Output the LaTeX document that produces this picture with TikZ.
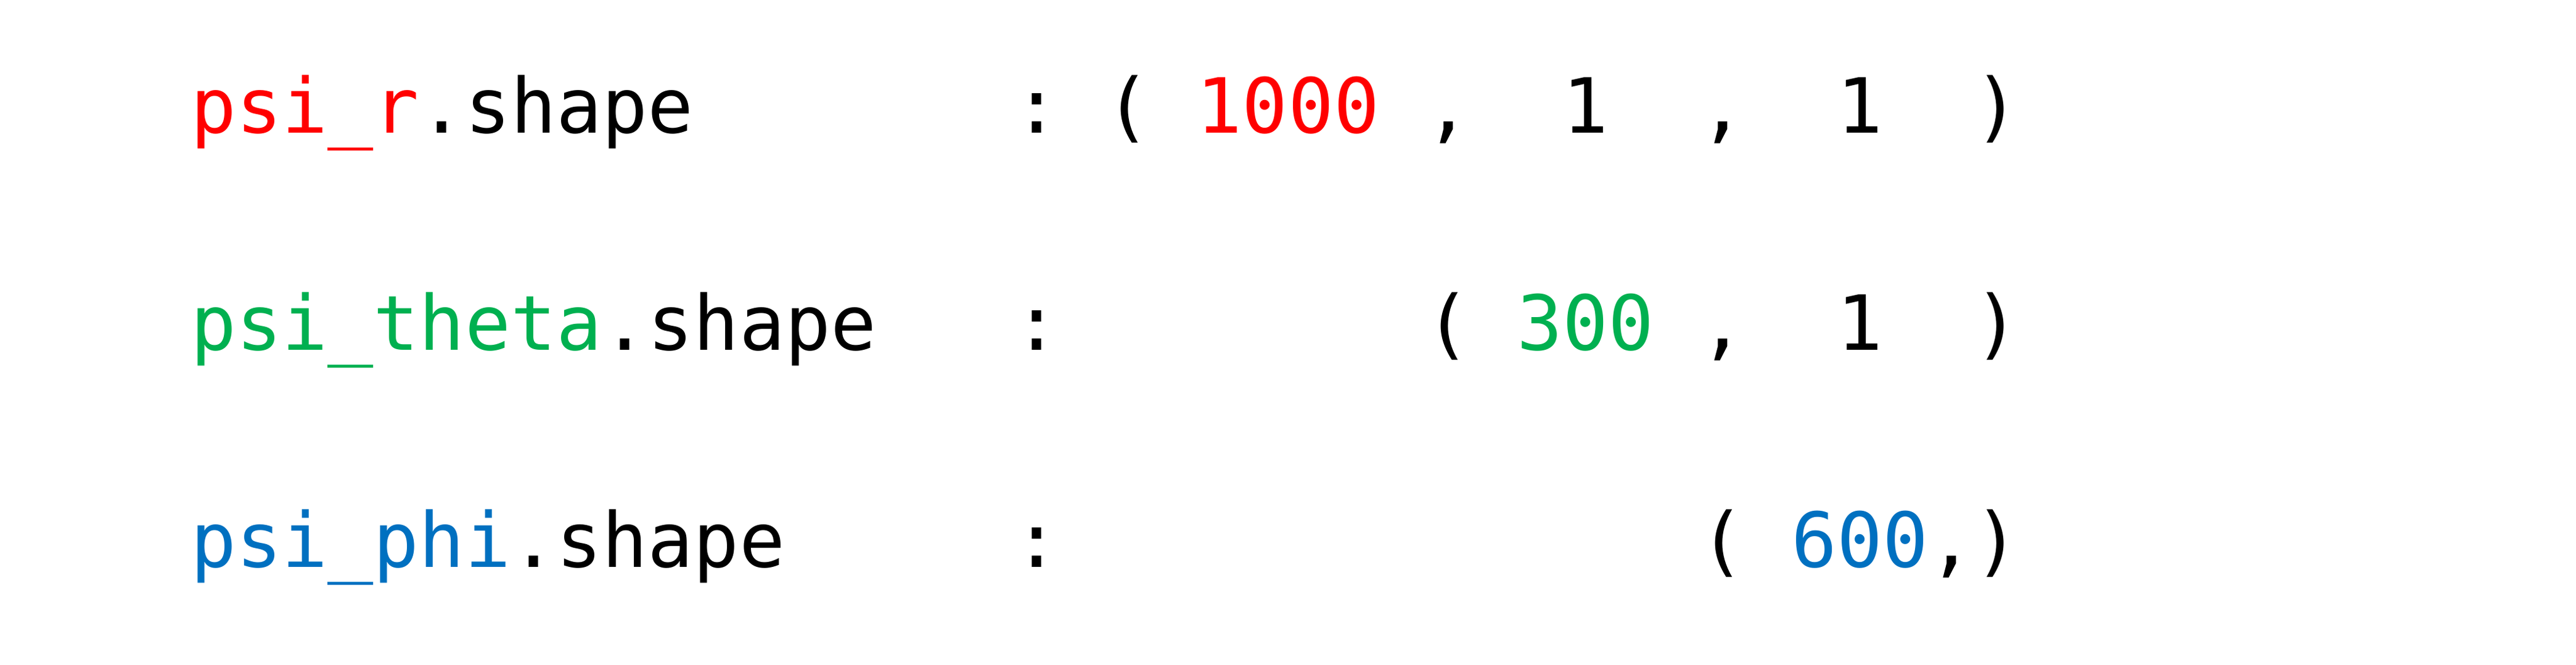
\documentclass[tikz,border=0pt]{standalone}
\usepackage{fontspec}
\setmonofont{DejaVu Sans Mono}
\usepackage{xcolor}
\usepackage{tikz}
\definecolor{rcol}{HTML}{FF0000}
\definecolor{thetacol}{HTML}{00B050}
\definecolor{phicol}{HTML}{0070C0}
\newcommand{\blank}[1]{\hspace*{#1\fontdimen2\font}}

\begin{document}
\begin{tikzpicture}[x=1pt,y=1pt,
  every node/.style={anchor=base west,inner sep=0pt,font=\ttfamily\fontsize{12.32}{14}\selectfont}]
\useasboundingbox (0,0) rectangle (417.8,107.7);

\node (R) at (30.7,86.2) {\textcolor{rcol}{psi\_r}.shape\blank{7}:\blank{1}(\blank{1}\textcolor{rcol}{1000}\blank{1},\blank{2}1\blank{2},\blank{2}1\blank{2})};
\node (T) at (30.7,51.0) {\textcolor{thetacol}{psi\_theta}.shape\blank{3}:\blank{8}(\blank{1}\textcolor{thetacol}{300}\blank{1},\blank{2}1\blank{2})};
\node (P) at (30.7,15.8) {\textcolor{phicol}{psi\_phi}.shape\blank{5}:\blank{14}(\blank{1}\textcolor{phicol}{600},)};
\end{tikzpicture}
\end{document}
